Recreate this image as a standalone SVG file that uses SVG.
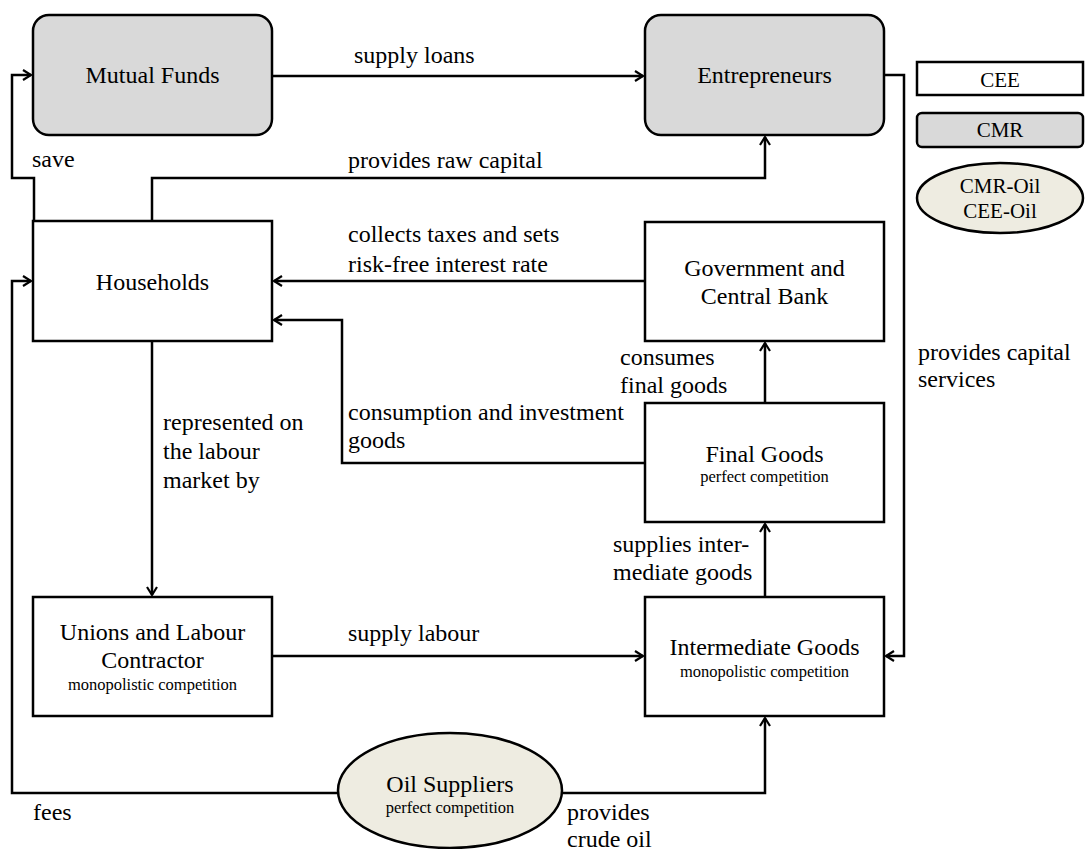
<svg xmlns="http://www.w3.org/2000/svg" width="1085" height="849" viewBox="0 0 1085 849" font-family="'Liberation Serif', 'DejaVu Serif', serif">
<style>
.box{fill:#fff;stroke:#000;stroke-width:2.5}
.grey{fill:#d9d9d9;stroke:#000;stroke-width:2.5}
.oil{fill:#eeece1;stroke:#000;stroke-width:2.5}
text{font-family:'Liberation Serif','DejaVu Serif',serif;fill:#000}
.t{font-size:24px}
.c{text-anchor:middle}
.s{font-size:16.5px;text-anchor:middle}
.lg{font-size:21px;text-anchor:middle}
.ln{fill:none;stroke:#000;stroke-width:2.5;marker-end:url(#ah)}
</style>
<defs>
<marker id="ah" markerUnits="userSpaceOnUse" markerWidth="14" markerHeight="14" viewBox="-10 -7 12 14" refX="0" refY="0" orient="auto">
<path d="M-8,-5 L0,0 L-8,5" fill="none" stroke="#000" stroke-width="2.2"/>
</marker>
</defs>
<rect width="1085" height="849" fill="#fff"/>

<g id="connectors">
<path class="ln" d="M272,76 H643"/>
<path class="ln" d="M34,221 V178 H12 V75 H31"/>
<path class="ln" d="M152,221 V178 H765 V137"/>
<path class="ln" d="M884,75 H904 V656 H886"/>
<path class="ln" d="M645,281 H274"/>
<path class="ln" d="M645,463 H342 V320 H274"/>
<path class="ln" d="M765,403 V343"/>
<path class="ln" d="M765,597 V524"/>
<path class="ln" d="M152,341 V595"/>
<path class="ln" d="M272,656 H643"/>
<path class="ln" d="M338,793 H12 V281 H31"/>
<path class="ln" d="M562,793 H765 V718"/>
</g>

<g id="labels">
<text class="t" x="354" y="63">supply loans</text>
<text class="t" x="32" y="167">save</text>
<text class="t" x="348" y="168">provides raw capital</text>
<text class="t" x="348" y="242">collects taxes and sets</text>
<text class="t" x="348" y="272">risk-free interest rate</text>
<text class="t" x="348" y="420">consumption and investment</text>
<text class="t" x="348" y="448">goods</text>
<text class="t" x="620" y="365">consumes</text>
<text class="t" x="620" y="393">final goods</text>
<text class="t" x="163" y="430">represented on</text>
<text class="t" x="163" y="459">the labour</text>
<text class="t" x="163" y="488">market by</text>
<text class="t" x="918" y="360">provides capital</text>
<text class="t" x="918" y="387">services</text>
<text class="t" x="613" y="552">supplies inter-</text>
<text class="t" x="613" y="580">mediate goods</text>
<text class="t" x="348" y="641">supply labour</text>
<text class="t" x="33" y="820">fees</text>
<text class="t" x="567" y="820">provides</text>
<text class="t" x="567" y="847">crude oil</text>
</g>

<g id="mutual-funds">
<rect class="grey" x="33" y="15" width="239" height="120" rx="16"/>
<text class="t c" x="152.5" y="83">Mutual Funds</text>
</g>
<g id="entrepreneurs">
<rect class="grey" x="645" y="15" width="239" height="120" rx="16"/>
<text class="t c" x="764.5" y="83">Entrepreneurs</text>
</g>
<g id="households">
<rect class="box" x="33" y="221" width="239" height="120"/>
<text class="t c" x="152.5" y="290">Households</text>
</g>
<g id="government">
<rect class="box" x="645" y="222" width="239" height="119"/>
<text class="t c" x="764.5" y="276">Government and</text>
<text class="t c" x="764.5" y="304">Central Bank</text>
</g>
<g id="final-goods">
<rect class="box" x="645" y="403" width="239" height="119"/>
<text class="t c" x="764.5" y="462">Final Goods</text>
<text class="s" x="764.5" y="482">perfect competition</text>
</g>
<g id="intermediate-goods">
<rect class="box" x="645" y="597" width="239" height="119"/>
<text class="t c" x="764.5" y="655">Intermediate Goods</text>
<text class="s" x="764.5" y="677">monopolistic competition</text>
</g>
<g id="unions">
<rect class="box" x="33" y="597" width="239" height="119"/>
<text class="t c" x="152.5" y="640">Unions and Labour</text>
<text class="t c" x="152.5" y="668">Contractor</text>
<text class="s" x="152.5" y="690">monopolistic competition</text>
</g>
<g id="oil-suppliers">
<ellipse class="oil" cx="450" cy="790.5" rx="112" ry="57.5"/>
<text class="t c" x="450" y="792">Oil Suppliers</text>
<text class="s" x="450" y="813">perfect competition</text>
</g>
<g id="legend-cee">
<rect class="box" x="917" y="62" width="166" height="33"/>
<text class="lg" x="1000" y="87">CEE</text>
</g>
<g id="legend-cmr">
<rect class="grey" x="917" y="113" width="166" height="34" rx="5"/>
<text class="lg" x="1000" y="137">CMR</text>
</g>
<g id="legend-oil">
<ellipse class="oil" cx="1000" cy="198" rx="83" ry="35"/>
<text class="lg" x="1000" y="193">CMR-Oil</text>
<text class="lg" x="1000" y="218">CEE-Oil</text>
</g>
</svg>
